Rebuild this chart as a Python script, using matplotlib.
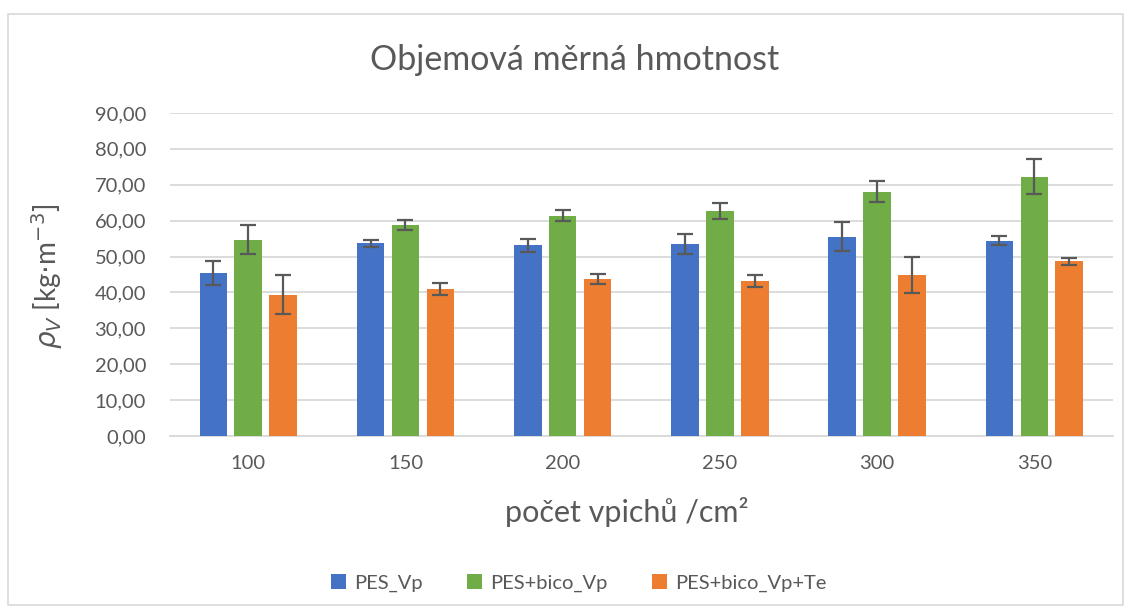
import matplotlib.pyplot as plt
import numpy as np
from matplotlib.patches import Rectangle

# data
categories = ['100', '150', '200', '250', '300', '350']
pes_vp = [45.4, 53.7, 53.1, 53.5, 55.5, 54.4]
pes_vp_err = [3.4, 1.0, 1.8, 2.8, 4.0, 1.2]
bico_vp = [54.7, 58.8, 61.4, 62.7, 68.1, 72.3]
bico_vp_err = [4.1, 1.4, 1.45, 2.35, 3.0, 4.75]
bico_te = [39.4, 41.0, 43.7, 43.3, 44.8, 48.7]
bico_te_err = [5.4, 1.7, 1.35, 1.7, 5.0, 0.95]
series_names = ['PES_Vp', 'PES+bico_Vp', 'PES+bico_Vp+Te']

plt.rcParams['font.family'] = ['Lato', 'DejaVu Sans']
text_col = '#595959'
grid_col = '#D9D9D9'
colors = ['#4472C4', '#70AD47', '#ED7D31']

W, H = 1131, 613
fig = plt.figure(figsize=(W / 100, H / 100), dpi=100)
# chart frame
fig.patches.append(Rectangle((8 / W, 8 / H), 1115 / W, 591 / H,
                             transform=fig.transFigure, fill=False,
                             edgecolor=grid_col, linewidth=1.2))

ax = fig.add_axes([0.150, 0.2887, 0.834, 0.527])

x = np.arange(len(categories))
width = 0.175
offset = 0.222
all_vals = [pes_vp, bico_vp, bico_te]
all_errs = [pes_vp_err, bico_vp_err, bico_te_err]
for i, (vals, errs) in enumerate(zip(all_vals, all_errs)):
    ax.bar(x + (i - 1) * offset, vals, width, color=colors[i],
           label=series_names[i], zorder=3,
           yerr=errs, capsize=6,
           error_kw=dict(ecolor=text_col, elinewidth=1.6, capthick=1.6))

ax.set_xlim(-0.5, 5.5)
ax.set_ylim(0, 90)
ax.set_yticks(np.arange(0, 91, 10))
ax.set_yticklabels([f'{v:.2f}'.replace('.', ',') for v in range(0, 91, 10)])
ax.set_xticks(x)
ax.set_xticklabels(categories)
ax.yaxis.grid(True, color=grid_col, linewidth=1.3, zorder=0)
ax.set_axisbelow(True)
for s in ['top', 'right', 'left']:
    ax.spines[s].set_visible(False)
ax.spines['bottom'].set_color(grid_col)
ax.spines['bottom'].set_linewidth(1.3)
ax.tick_params(axis='both', length=0, labelsize=14.5, colors=text_col)
ax.tick_params(axis='y', pad=17)
ax.tick_params(axis='x', pad=14)

fig.text(575 / W, 1 - 60 / H, 'Objemová měrná hmotnost', fontsize=24.5,
         color=text_col, ha='center', va='center')
fig.text(627 / W, 1 - 512 / H, 'počet vpichů /cm²', fontsize=22,
         color=text_col, ha='center', va='center')
ax.set_ylabel(r'$\rho_V$ [kg$\cdot$m$^{-3}$]', fontsize=20, color=text_col)
ax.yaxis.set_label_coords(-0.111, 0.494)

fig.legend(*ax.get_legend_handles_labels(), loc='center',
           bbox_to_anchor=(579 / W, 1 - 583 / H), ncol=3, frameon=False,
           fontsize=14.5, labelcolor=text_col, handlelength=0.75, handleheight=0.75,
           columnspacing=2.2, handletextpad=0.4)

fig.savefig('out.png', dpi=100)
